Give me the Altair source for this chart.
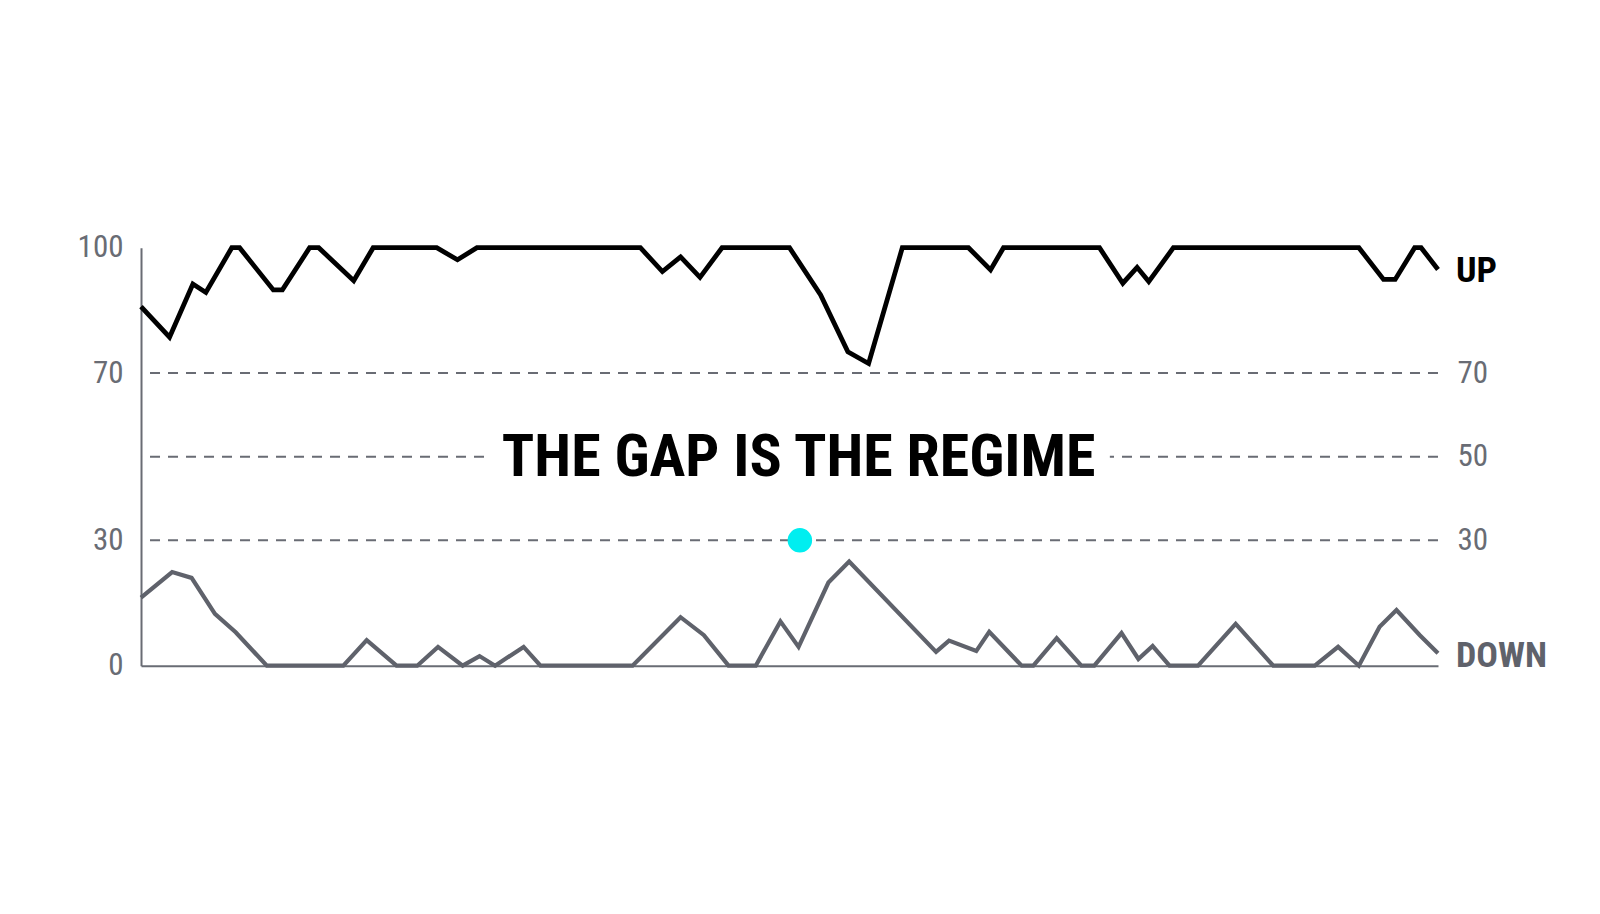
import altair as alt
import pandas as pd

# ---- data ----
up_t = [0.0, 2.2, 4.0, 5.0, 7.0, 7.6, 10.2, 10.9, 13.0, 13.7, 16.4, 17.9, 22.8, 24.4, 25.9,
        38.5, 40.2, 41.6, 43.1, 44.8, 50.0, 52.4, 54.5, 56.1, 58.7, 63.8, 65.5, 66.5, 73.9,
        75.7, 76.8, 77.7, 79.6, 93.9, 95.8, 96.7, 98.2, 98.7, 100.0]
up_v = [85.9, 78.6, 91.3, 89.3, 100, 100, 89.9, 89.9, 100, 100, 92.1, 100, 100, 97.1, 100,
        100, 94.3, 97.8, 92.9, 100, 100, 88.7, 75.1, 72.3, 100, 100, 94.7, 100, 100,
        91.5, 95.3, 91.9, 100, 100, 92.4, 92.4, 100, 100, 94.8]

down_t = [0.0, 2.4, 3.9, 5.7, 7.3, 9.7, 15.6, 17.4, 19.7, 21.3, 22.9, 24.8, 26.1, 27.3, 29.5,
          30.8, 37.9, 41.6, 43.4, 45.3, 47.4, 49.3, 50.7, 53.0, 54.6, 61.3, 62.3, 64.4, 65.4,
          67.9, 68.8, 70.6, 72.5, 73.5, 75.6, 76.9, 78.0, 79.3, 81.5, 84.4, 87.3, 90.5, 92.3,
          93.9, 95.5, 96.8, 98.6, 100.0]
down_v = [16.3, 22.4, 21.0, 12.4, 8.0, 0, 0, 6.1, 0, 0, 4.5, 0, 2.3, 0, 4.5,
          0, 0, 11.6, 7.3, 0, 0, 10.6, 4.5, 19.9, 24.9, 3.3, 6.0, 3.5, 8.1,
          0, 0, 6.6, 0, 0, 7.8, 1.6, 4.7, 0, 0, 10.0, 0, 0, 4.5,
          0, 9.3, 13.3, 7.3, 3.0]

grid_levels = [30, 50, 70]
left_ticks = [0, 30, 70, 100]
marker_t, marker_v = [50.8], [30]
title_text = "THE GAP IS THE REGIME"
title_t, title_v = [50.7], [50]
title_box_t, title_box_t2 = [26.9], [74.7]
title_box_v, title_box_v2 = [46], [54]

up_df = pd.DataFrame({"t": up_t, "v": up_v})
down_df = pd.DataFrame({"t": down_t, "v": down_v})
grid_df = pd.DataFrame({"level": grid_levels})
marker_df = pd.DataFrame({"t": marker_t, "v": marker_v})
title_df = pd.DataFrame({"t": title_t, "v": title_v, "label": [title_text]})
box_df = pd.DataFrame({"t": title_box_t, "t2": title_box_t2, "v": title_box_v, "v2": title_box_v2})
up_end = pd.DataFrame({"t": [up_t[-1]], "v": [up_v[-1]], "label": ["UP"]})
down_end = pd.DataFrame({"t": [down_t[-1]], "v": [0], "label": ["DOWN"]})

GREY = "#696c74"
DOWN_C = "#5f626b"
COND = "'Roboto Condensed', 'Liberation Sans Narrow', 'DejaVu Sans Condensed', sans-serif"

xs = alt.Scale(domain=[0, 100], nice=False, zero=False)
ys = alt.Scale(domain=[0, 100], nice=False, zero=False)
X = alt.X("t:Q", scale=xs, title=None)

grid = alt.Chart(grid_df).mark_rule(color=GREY, strokeWidth=2, strokeDash=[10, 8]).encode(
    y=alt.Y("level:Q", scale=ys, title=None,
            axis=alt.Axis(orient="right", values=grid_levels, domain=False, ticks=False,
                          grid=False, labelPadding=19, labelFontSize=31, labelColor=GREY,
                          labelFont=COND, labelFontWeight=400))
)

box = alt.Chart(box_df).mark_rect(color="white").encode(
    x=X, x2="t2:Q",
    y=alt.Y("v:Q", scale=ys, axis=None), y2="v2:Q"
)

title = alt.Chart(title_df).mark_text(
    font=COND, fontSize=60, fontWeight="bold", color="black", baseline="middle", align="center", dy=1
).encode(x=X, y=alt.Y("v:Q", scale=ys, axis=None), text="label:N")

down_line = alt.Chart(down_df).mark_line(color=DOWN_C, strokeWidth=4.2, strokeJoin="miter").encode(
    x=X,
    y=alt.Y("v:Q", scale=ys, title=None,
            axis=alt.Axis(orient="left", values=left_ticks, domain=True, domainColor=GREY,
                          domainWidth=2, ticks=False, grid=False, labelPadding=18,
                          labelFontSize=31, labelColor=GREY, labelFont=COND, labelFontWeight=400))
)

up_line = alt.Chart(up_df).mark_line(color="black", strokeWidth=4.8, strokeJoin="miter").encode(
    x=X, y=alt.Y("v:Q", scale=ys, axis=None)
)

marker = alt.Chart(marker_df).mark_circle(color="#00eef0", opacity=1, size=600).encode(
    x=X, y=alt.Y("v:Q", scale=ys, axis=None)
)

up_lab = alt.Chart(up_end).mark_text(
    font=COND, fontSize=36, fontWeight="bold", color="black", align="left", baseline="middle", dx=18, dy=2
).encode(x=X, y=alt.Y("v:Q", scale=ys, axis=None), text="label:N")

down_lab = alt.Chart(down_end).mark_text(
    font=COND, fontSize=36, fontWeight="bold", color=DOWN_C, align="left", baseline="alphabetic", dx=18, dy=1
).encode(x=X, y=alt.Y("v:Q", scale=ys, axis=None), text="label:N")

chart = alt.layer(grid, box, title, down_line, up_line, marker, up_lab, down_lab).resolve_scale(
    y="independent"
).properties(
    width=1297, height=418,
    autosize=alt.AutoSizeParams(type="none"),
    padding={"left": 133, "top": 239.7, "right": 150, "bottom": 230},
    background="white",
).configure_view(stroke=None).configure_axisX(
    domain=True, domainColor=GREY, domainWidth=2, labels=False, ticks=False, grid=False, title=None
)

chart.save("out.html", embed_options={"renderer": "svg", "actions": False})
